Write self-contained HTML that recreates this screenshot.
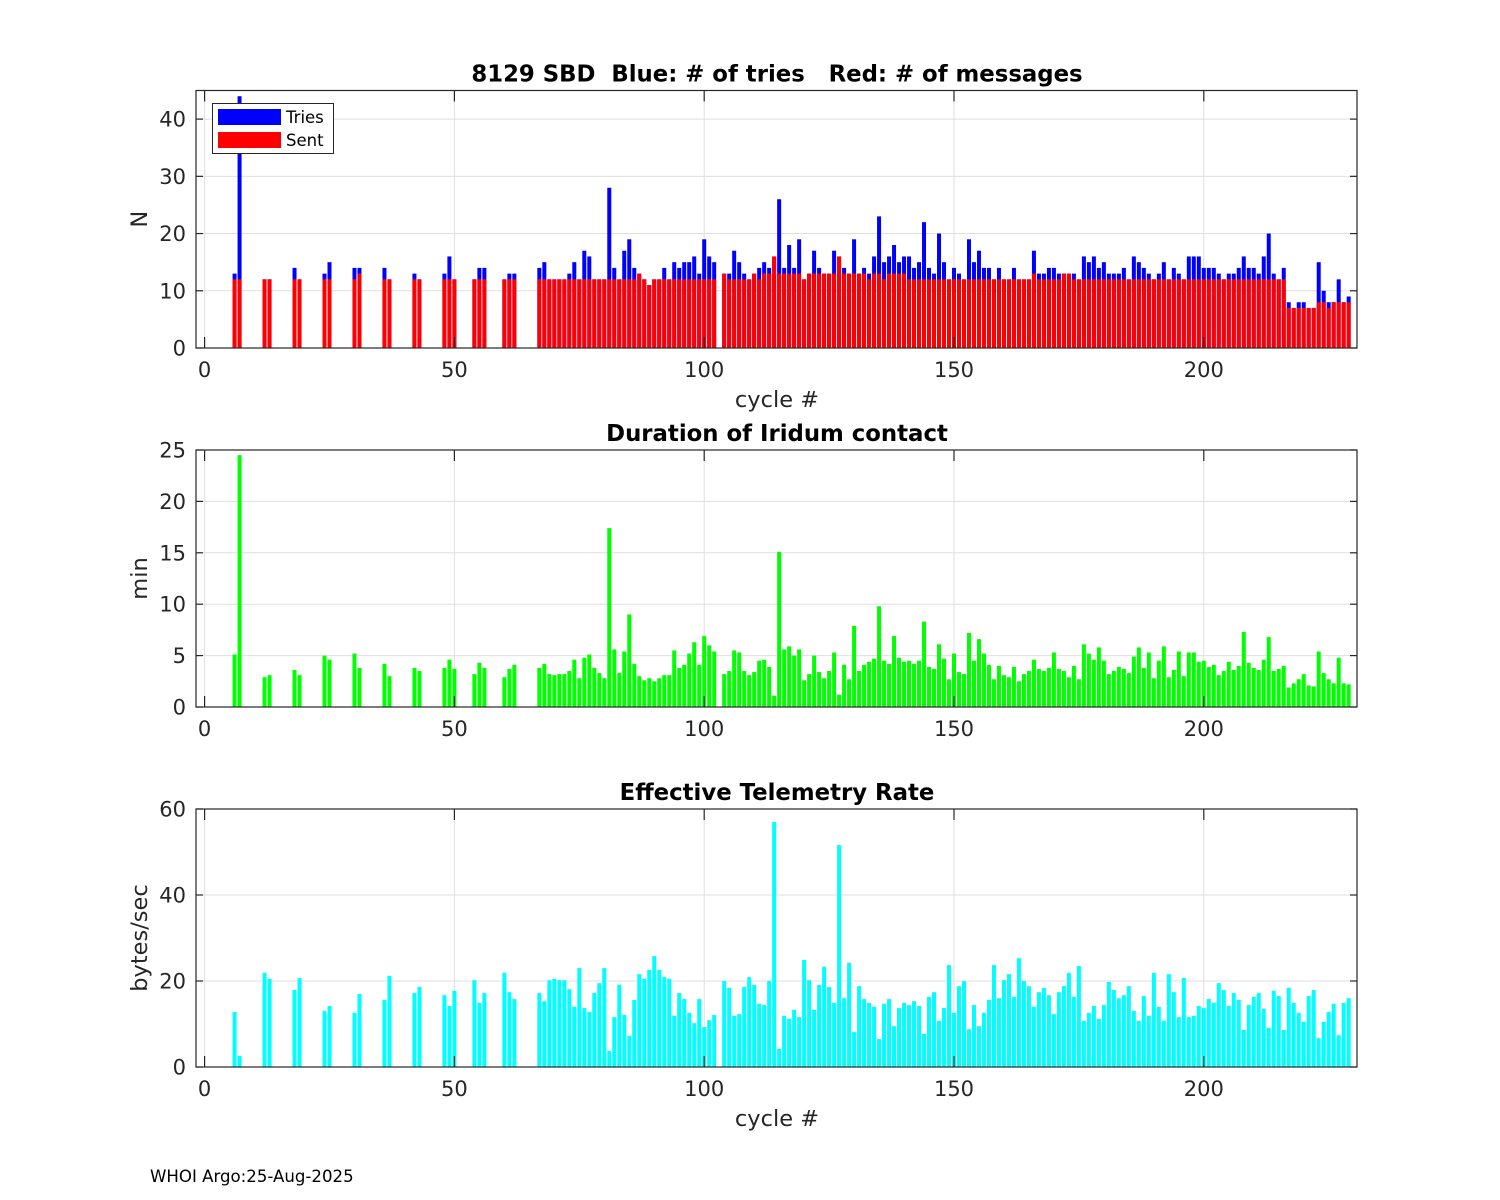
<!DOCTYPE html>
<html>
<head>
<meta charset="utf-8">
<style>
html,body{margin:0;padding:0;background:#fff;}
svg{display:block;font-family:"DejaVu Sans","Liberation Sans",sans-serif;}
text{white-space:pre;}
</style>
</head>
<body>
<svg id="fig" width="1500" height="1200" viewBox="0 0 1500 1200" xmlns="http://www.w3.org/2000/svg">
<rect x="0" y="0" width="1500" height="1200" fill="#fff"/>
<text x="150" y="1182" font-size="16.6" fill="#000">WHOI Argo:25-Aug-2025</text>
</svg>
<script>
const cycles = [6,7,12,13,18,19,24,25,30,31,36,37,42,43,48,49,50,54,55,56,60,61,62,
67,68,69,70,71,72,73,74,75,76,77,78,79,80,81,82,83,84,85,86,87,88,89,90,91,92,93,94,95,96,97,98,99,100,101,102,
104,105,106,107,108,109,110,111,112,113,114,115,116,117,118,119,120,121,122,123,124,125,126,127,128,129,130,131,132,133,134,135,136,137,138,139,140,141,142,143,144,145,146,147,148,149,150,151,152,153,154,
155,156,157,158,159,160,161,162,163,164,165,166,167,168,169,170,171,172,173,174,175,176,177,178,179,180,181,182,183,184,185,186,187,188,189,190,191,192,193,194,195,196,197,198,199,200,201,202,203,204,205,206,207,208,209,210,211,212,213,214,215,216,217,218,219,220,221,222,223,224,225,226,227,228,229];
const tries = [13,44,12,12,14,12,13,15,14,14,14,12,13,12,13,16,12,12,14,14,12,13,13,
14,15,12,12,12,12,13,15,12,17,16,12,12,12,28,14,12,17,19,14,13,12,11,12,12,14,12,15,14,15,15,16,13,19,16,15,
13,13,17,15,13,12,13,14,15,14,16,26,14,18,14,19,12,13,17,14,13,13,17,16,14,13,19,13,14,13,16,23,15,16,18,15,16,16,14,15,22,14,13,20,15,12,14,13,12,19,15,
17,14,14,12,14,12,12,14,12,12,12,17,13,13,14,14,13,13,13,13,12,16,15,16,14,15,13,13,13,14,12,16,15,14,13,12,13,15,12,14,13,12,16,16,16,14,14,14,13,12,13,13,14,16,14,14,13,16,20,13,12,14,8,7,8,8,7,7,15,10,8,8,12,8,9];
const sent = [12,12,12,12,12,12,12,12,12,13,12,12,12,12,12,12,12,12,12,12,12,12,12,
12,12,12,12,12,12,12,12,12,12,12,12,12,12,12,12,12,12,12,12,13,12,11,12,12,12,12,12,12,12,12,12,12,12,12,12,
13,12,12,12,12,12,13,12,13,13,16,13,13,13,13,13,12,13,13,13,13,13,13,16,13,13,13,13,13,12,13,13,12,13,13,13,13,12,12,12,12,12,12,12,12,12,12,12,12,12,12,
12,12,12,12,12,12,12,12,12,12,12,13,12,12,12,12,12,13,13,12,12,12,12,12,12,12,12,12,12,12,12,12,12,12,12,12,12,12,12,12,12,12,12,12,12,12,12,12,12,12,12,12,12,12,12,12,12,12,12,12,12,12,7,7,7,7,7,7,8,8,7,8,8,8,8];
const duration = [5.1,24.5,2.9,3.1,3.6,3.1,5.0,4.6,5.2,3.8,4.2,3.0,3.8,3.5,3.8,4.6,3.7,3.2,4.3,3.8,2.9,3.7,4.1,
3.8,4.2,3.2,3.1,3.2,3.2,3.5,4.6,2.8,4.8,5.1,3.8,3.3,2.8,17.4,5.6,3.3,5.4,9.0,4.2,3.0,2.6,2.8,2.5,2.8,3.1,3.1,5.5,3.8,4.1,5.2,6.3,4.1,6.9,6.0,5.4,
3.2,3.5,5.5,5.3,3.5,3.1,3.4,4.5,4.6,3.9,1.1,15.1,5.6,5.9,5.0,5.6,2.6,3.2,5.0,3.4,2.8,3.5,5.3,1.2,4.1,2.7,7.9,3.5,4.1,4.4,4.7,9.8,4.5,4.2,6.9,4.8,4.4,4.5,4.2,4.5,8.3,3.9,3.7,6.1,4.7,2.7,5.2,3.4,3.2,7.2,4.5,
6.6,5.2,4.1,2.7,4.0,3.1,2.9,3.9,2.5,3.2,3.5,4.6,3.7,3.5,3.8,5.3,3.7,3.5,2.9,4.0,2.7,6.1,5.2,4.6,5.8,4.5,3.2,3.5,3.9,3.7,3.3,4.9,5.8,3.8,5.3,2.8,4.5,5.9,2.9,3.6,5.4,3.0,5.3,5.3,4.4,4.5,3.9,4.1,3.1,3.5,4.4,3.6,4.0,7.3,4.3,3.8,3.6,4.6,6.8,3.5,3.7,4.0,1.9,2.3,2.7,3.2,2.1,2.0,5.4,3.3,2.7,2.3,4.8,2.3,2.2];
const rate = [12.8,2.6,21.9,20.5,17.9,20.7,13.0,14.2,12.6,17.0,15.6,21.2,17.2,18.6,16.7,14.2,17.7,20.2,14.9,17.2,21.9,17.4,15.8,
17.2,15.3,20.2,20.5,20.2,20.2,18.1,14.0,23.0,13.7,12.8,17.2,19.5,23.0,3.7,11.6,19.1,12.1,7.2,15.6,21.6,20.5,22.6,25.8,22.6,20.9,20.5,11.9,17.2,15.8,12.6,10.2,15.8,9.3,10.9,12.1,
20.0,18.4,11.9,12.3,18.6,20.9,19.1,14.7,14.4,20.0,57.0,4.2,11.9,11.2,13.3,11.6,24.9,20.2,13.3,19.1,23.3,18.6,14.9,51.6,16.0,24.2,8.1,18.8,15.8,14.9,14.0,6.5,14.7,15.8,9.5,13.7,14.9,14.4,15.3,14.2,7.7,16.3,17.4,10.7,13.7,23.7,12.6,18.8,20.0,8.8,14.4,
9.5,12.6,15.6,23.7,16.0,20.2,21.6,16.3,25.3,20.0,18.8,14.0,17.4,18.4,16.7,12.3,17.4,18.8,21.9,16.3,23.5,10.7,12.6,14.2,11.2,14.4,19.8,17.9,16.0,16.7,18.8,13.0,10.7,16.5,11.9,21.9,14.0,10.7,21.6,17.4,11.6,20.7,11.6,11.9,14.2,13.7,15.8,14.9,19.5,17.9,14.2,17.2,15.6,8.6,14.4,16.3,17.2,13.5,9.1,17.7,16.5,8.6,18.4,14.9,12.6,10.5,16.5,17.9,6.7,10.5,12.8,14.7,7.4,14.9,16.0];
const xTicks = [0,50,100,150,200];
const yTicks1 = [0,10,20,30,40];
const yTicks2 = [0,5,10,15,20,25];
const yTicks3 = [0,20,40,60];

const NS = "http://www.w3.org/2000/svg";
const svg = document.getElementById('fig');
const AX_L = 196, AX_R = 1357;
function xs(c){ return 204.6 + 4.996*c; }
function mk(tag, attrs, parent){
  const e = document.createElementNS(NS, tag);
  for (const k in attrs) e.setAttribute(k, attrs[k]);
  (parent||svg).appendChild(e);
  return e;
}
function makeAxes(name, top, bot, ymax, yTicks, title, ylabel, showXLabel){
  const g = mk('g', {});
  
  
  const ys = v => bot - (bot-top)*v/ymax;
  xTicks.forEach(t => {
    const l = mk('line', {x1:xs(t), x2:xs(t), y1:top, y2:bot, stroke:'#dfdfdf', 'stroke-width':1}, g);
    
    
  });
  yTicks.forEach(t => {
    const l = mk('line', {x1:AX_L, x2:AX_R, y1:ys(t), y2:ys(t), stroke:'#dfdfdf', 'stroke-width':1}, g);
    
    
  });
  const bars = mk('g', {}, g);
  
  
  const box = mk('rect', {x:AX_L, y:top, width:AX_R-AX_L, height:bot-top, fill:'none', stroke:'#262626', 'stroke-width':1.2}, g);
  
  
  xTicks.forEach(t => {
    const x = xs(t);
    mk('line', {x1:x, x2:x, y1:bot, y2:bot-11, stroke:'#262626', 'stroke-width':1.2}, g);
    mk('line', {x1:x, x2:x, y1:top, y2:top+11, stroke:'#262626', 'stroke-width':1.2}, g);
    const tx = mk('text', {x:x, y:bot+29, 'font-size':21, fill:'#262626', 'text-anchor':'middle'}, g);
    tx.textContent = t;
    
    
  });
  yTicks.forEach(t => {
    const y = ys(t);
    mk('line', {x1:AX_L, x2:AX_L+7, y1:y, y2:y, stroke:'#262626', 'stroke-width':1.2}, g);
    mk('line', {x1:AX_R, x2:AX_R-7, y1:y, y2:y, stroke:'#262626', 'stroke-width':1.2}, g);
    const ty = mk('text', {x:186, y:y+7.5, 'font-size':21, fill:'#262626', 'text-anchor':'end'}, g);
    ty.textContent = t;
    
    
  });
  const tt = mk('text', {x:777, y:top-9, 'font-size':22.8, 'font-weight':'bold', fill:'#000', 'text-anchor':'middle'}, g);
  tt.textContent = title;
  
  
  const cy = (top+bot)/2;
  const yl = mk('text', {x:147, y:cy, 'font-size':22.5, fill:'#262626', 'text-anchor':'middle', transform:'rotate(-90 147 '+cy+')'}, g);
  yl.textContent = ylabel;
  
  
  if (showXLabel){
    const xl = mk('text', {x:777, y:bot+59, 'font-size':22.5, fill:'#262626', 'text-anchor':'middle'}, g);
    xl.textContent = 'cycle #';
    
    
  }
  return {bars, ys};
}
function drawBars(ax, vals, color, name){
  cycles.forEach((c, i) => {
    const v = vals[i];
    const y = ax.ys(v);
    const r = mk('rect', {x:xs(c)-2, y:y, width:4, height:ax.ys(0)-y, fill:color}, ax.bars);
    
    
  });
}
const a1 = makeAxes('tries-sent-chart', 90.5, 348, 45, yTicks1, '8129 SBD  Blue: # of tries   Red: # of messages', 'N', true);
drawBars(a1, tries, '#0000ff', 'tries-bar');
drawBars(a1, sent, '#ff0000', 'sent-bar');
const lg = mk('g', {});


mk('rect', {x:212.5, y:103.5, width:121, height:50, fill:'#fff', stroke:'#262626', 'stroke-width':1}, lg);
const le1 = mk('rect', {x:218, y:109, width:63, height:16, fill:'#0000ff'}, lg);


const le2 = mk('rect', {x:218, y:132, width:63, height:16, fill:'#ff0000'}, lg);


const lt1 = mk('text', {x:286, y:123, 'font-size':16.5, fill:'#000'}, lg);
lt1.textContent = 'Tries';


const lt2 = mk('text', {x:286, y:146, 'font-size':16.5, fill:'#000'}, lg);
lt2.textContent = 'Sent';


const a2 = makeAxes('duration-chart', 450, 707, 25, yTicks2, 'Duration of Iridum contact', 'min', false);
drawBars(a2, duration, '#00ff00', 'duration-bar');
const a3 = makeAxes('telemetry-rate-chart', 809, 1067, 60, yTicks3, 'Effective Telemetry Rate', 'bytes/sec', true);
drawBars(a3, rate, '#00ffff', 'rate-bar');
</script>
</body>
</html>
